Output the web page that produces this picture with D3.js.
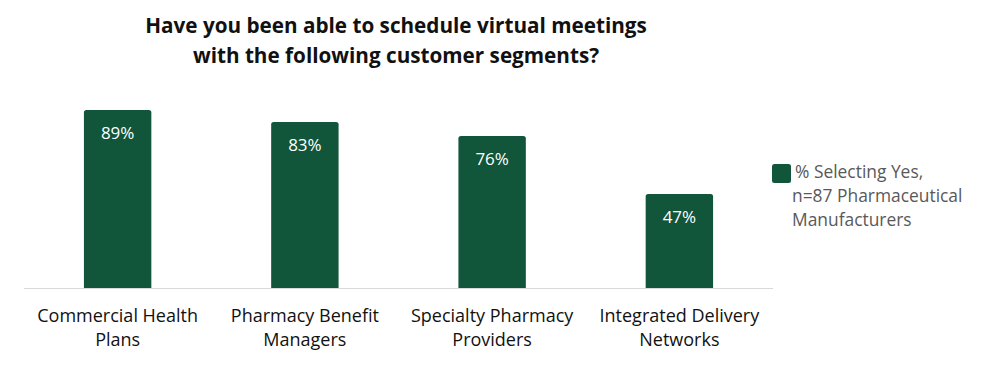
<!DOCTYPE html>
<html>
<head>
<meta charset="utf-8">
<script src="https://cdn.jsdelivr.net/npm/d3@7"></script>
<style>
  body { margin: 0; background: #fff; }
  svg { display: block; font-family: "Open Sans", "Noto Sans", sans-serif; }
</style>
</head>
<body>
<div id="chart"></div>
<script>
// ── Data ──────────────────────────────────────────────
const categories = [
  ['Commercial Health', 'Plans'],
  ['Pharmacy Benefit', 'Managers'],
  ['Specialty Pharmacy', 'Providers'],
  ['Integrated Delivery', 'Networks'],
];
const values = [89, 83, 76, 47];
const titleLines = [
  'Have you been able to schedule virtual meetings',
  'with the following customer segments?',
];
const legendLines = ['% Selecting Yes,', 'n=87 Pharmaceutical', 'Manufacturers'];

// ── Layout ────────────────────────────────────────────
const width = 997, height = 375;
const margin = { left: 24, right: 224, top: 88, bottom: 87 };
const barColor = '#11553a';

const svg = d3.select('#chart').append('svg')
  .attr('width', width)
  .attr('height', height);

const x = d3.scaleBand()
  .domain(d3.range(categories.length))
  .range([margin.left, width - margin.right])
  .paddingInner(0.64)
  .paddingOuter(0.32);

const y = d3.scaleLinear()
  .domain([0, 100])
  .range([height - margin.bottom, margin.top]);

// Title
svg.append('text')
  .attr('text-anchor', 'middle')
  .attr('font-size', 20.7)
  .attr('font-weight', 700)
  .attr('fill', '#111')
  .selectAll('tspan')
  .data(titleLines)
  .join('tspan')
  .attr('x', 396)
  .attr('y', (d, i) => 33 + i * 30)
  .text(d => d);

// Bars (slightly rounded top)
svg.append('g')
  .selectAll('path')
  .data(values)
  .join('path')
  .attr('fill', barColor)
  .attr('d', (d, i) => {
    const x0 = x(i), x1 = x(i) + x.bandwidth();
    const y0 = y(0), y1 = y(d), r = 2.5;
    return `M${x0},${y0}V${y1 + r}Q${x0},${y1} ${x0 + r},${y1}H${x1 - r}Q${x1},${y1} ${x1},${y1 + r}V${y0}Z`;
  });

// Axis line
svg.append('line')
  .attr('x1', margin.left)
  .attr('x2', width - margin.right)
  .attr('y1', y(0) + 0.5)
  .attr('y2', y(0) + 0.5)
  .attr('stroke', '#d9d9d9')
  .attr('stroke-width', 1);

// Value labels
svg.append('g')
  .selectAll('text')
  .data(values)
  .join('text')
  .attr('x', (d, i) => x(i) + x.bandwidth() / 2)
  .attr('y', d => y(d) + 29)
  .attr('text-anchor', 'middle')
  .attr('font-size', 17)
  .attr('fill', '#fff')
  .text(d => d + '%');

// Category labels
svg.append('g')
  .selectAll('text')
  .data(categories)
  .join('text')
  .attr('text-anchor', 'middle')
  .attr('font-size', 18)
  .attr('fill', '#111')
  .each(function (lines, i) {
    d3.select(this).selectAll('tspan')
      .data(lines)
      .join('tspan')
      .attr('x', x(i) + x.bandwidth() / 2)
      .attr('y', (d, j) => 322 + j * 23.5)
      .text(d => d);
  });

// Legend
const legend = svg.append('g');
legend.append('rect')
  .attr('x', 772)
  .attr('y', 164)
  .attr('width', 19)
  .attr('height', 19)
  .attr('rx', 2.5)
  .attr('fill', barColor);
legend.append('text')
  .attr('font-size', 17.4)
  .attr('fill', '#595959')
  .selectAll('tspan')
  .data(legendLines)
  .join('tspan')
  .attr('x', (d, i) => i === 0 ? 795 : 792)
  .attr('y', (d, i) => 178 + i * 24)
  .text(d => d);
</script>
</body>
</html>
